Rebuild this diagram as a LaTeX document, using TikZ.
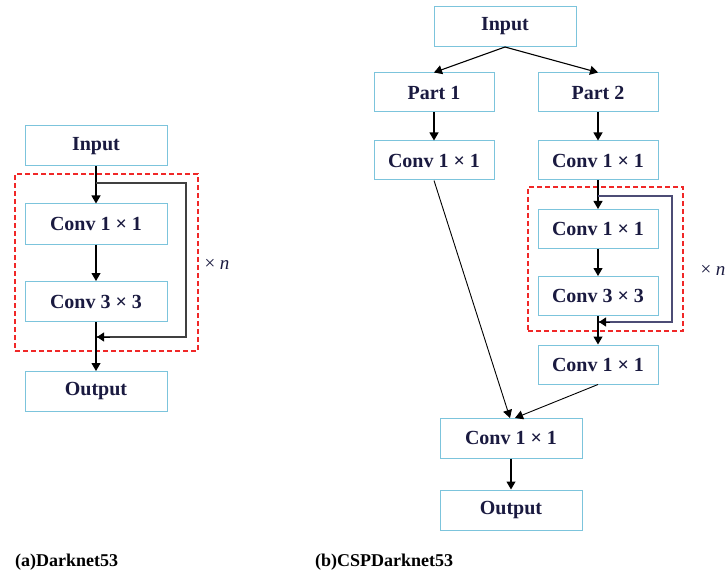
\documentclass[tikz,border=0pt]{standalone}
\usepackage{fontspec}
\setmainfont{Liberation Serif}
\usetikzlibrary{arrows.meta}
\definecolor{boxcol}{HTML}{7CC4DC}
\definecolor{txtcol}{HTML}{1A1A40}
\definecolor{repcol}{HTML}{F02828}
\tikzset{
  blk/.style={draw=boxcol, line width=1pt, fill=white, inner sep=0pt,
    minimum width=142pt, minimum height=40pt, text=txtcol,
    font=\fontsize{20}{22}\selectfont\bfseries},
  sblk/.style={blk, minimum width=120pt, minimum height=39pt},
  arr/.style={draw=black, line width=1.1pt, -{Triangle[width=9pt,length=8pt]}},
  loopln/.style={draw=black!75, line width=1.8pt},
  rep/.style={draw=repcol, line width=1.8pt, dash pattern=on 5pt off 3pt},
  captxt/.style={font=\fontsize{18}{20}\selectfont\bfseries, text=black, anchor=west, inner sep=0pt},
  xn/.style={font=\fontsize{19}{21}\selectfont, text=txtcol, inner sep=0pt}
}
\begin{document}
\begin{tikzpicture}[x=1pt,y=-1pt]
\useasboundingbox (0,0) rectangle (726,583);
% ---------------- (a) Darknet53 ----------------
\node[rep, draw, minimum width=183pt, minimum height=177pt, inner sep=0pt] (ra) at (106.5,262.5) {};
\node[blk] (ain) at (96,146) {Input};
\node[blk] (ac1) at (96,224) {Conv 1 × 1};
\node[blk] (ac3) at (96,301.5) {Conv 3 × 3};
\node[blk] (aout) at (96,391.5) {Output};
\coordinate (als) at (96,183);
\coordinate (ale) at (97,337);
\draw[arr] (ain.south) -- (ac1.north);
\draw[arr] (ac1.south) -- (ac3.north);
\draw[loopln] (als) -| (186,337) -- (ale);
\draw[arr] (ac3.south) -- (aout.north);
\draw[draw=black, line width=1pt, -{Triangle[width=9pt,length=7pt]}] (110,337) -- (ale);
\node[xn] (axn) at (217,264) {× \textit{n}};
\node[captxt] (acap) at (15,562) {(a)Darknet53};
% ---------------- (b) CSPDarknet53 ----------------
\node[rep, draw, minimum width=155pt, minimum height=144pt, inner sep=0pt] (rb) at (605.5,259) {};
\node[blk] (bin) at (505,26.5) {Input};
\node[sblk] (bp1) at (434,92.5) {Part 1};
\node[sblk] (bp2) at (598,92.5) {Part 2};
\node[sblk] (bl1) at (434,160.5) {Conv 1 × 1};
\node[sblk] (br1) at (598,160.5) {Conv 1 × 1};
\node[sblk] (bc1) at (598,229) {Conv 1 × 1};
\node[sblk] (bc3) at (598,296) {Conv 3 × 3};
\node[sblk] (bc4) at (598,364.5) {Conv 1 × 1};
\node[blk] (bf) at (511,438) {Conv 1 × 1};
\node[blk] (bout) at (511,510) {Output};
\coordinate (bls) at (598,196);
\coordinate (ble) at (599,322);
\coordinate (bfa) at (510,418);
\coordinate (bfb) at (515,418);
\draw[arr] (bin.south) -- (bp1.north);
\draw[arr] (bin.south) -- (bp2.north);
\draw[arr] (bp1.south) -- (bl1.north);
\draw[arr] (bp2.south) -- (br1.north);
\draw[arr] (br1.south) -- (bc1.north);
\draw[arr] (bc1.south) -- (bc3.north);
\draw[loopln, draw=black!60!blue!40!gray] (bls) -| (672,322) -- (ble);
\draw[arr] (bc3.south) -- (bc4.north);
\draw[draw=black, line width=1pt, -{Triangle[width=9pt,length=7pt]}] (610,322) -- (ble);
\draw[arr, line width=0.9pt] (bl1.south) -- (bfa);
\draw[arr, line width=0.9pt] (bc4.south) -- (bfb);
\draw[arr] (bf.south) -- (bout.north);
\node[xn] (bxn) at (713,270) {× \textit{n}};
\node[captxt] (bcap) at (315,562) {(b)CSPDarknet53};
\end{tikzpicture}
\end{document}
